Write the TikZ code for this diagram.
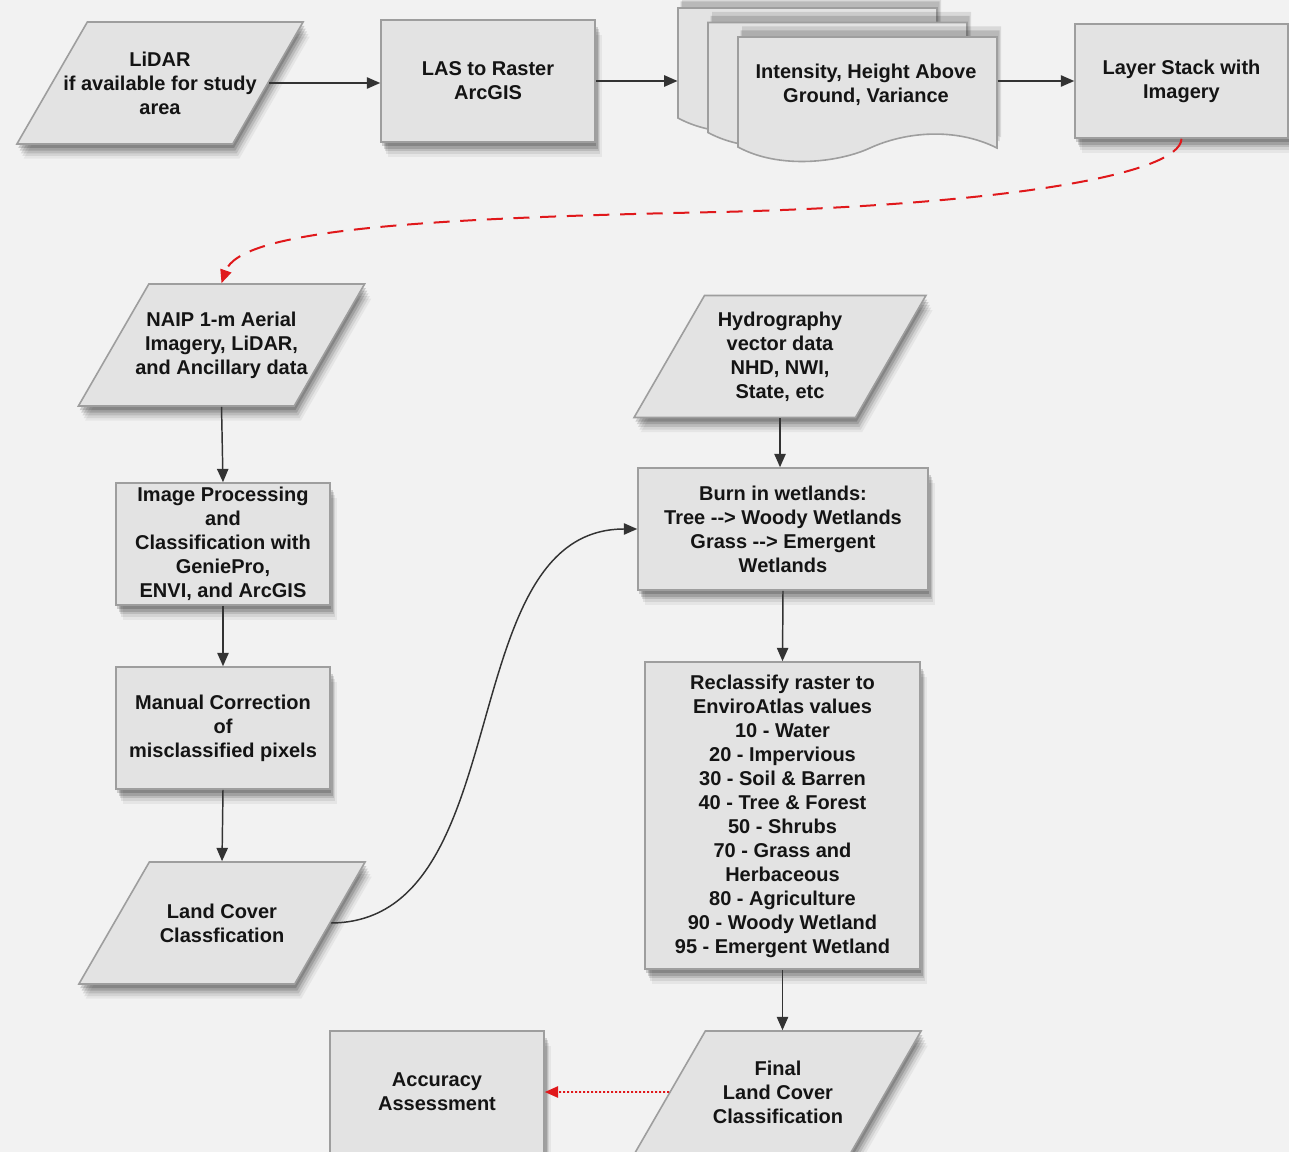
\documentclass[tikz,border=0pt]{standalone}
\usepackage{fontspec}
\setmainfont{Liberation Sans}
\usetikzlibrary{shapes.geometric,arrows.meta,shadows}

\definecolor{bgcol}{HTML}{F2F2F2}
\definecolor{boxfill}{HTML}{E3E3E3}
\definecolor{boxline}{HTML}{9E9E9E}
\definecolor{arrowcol}{HTML}{333333}
\definecolor{redline}{HTML}{E0181B}
\definecolor{txtcol}{HTML}{141414}

\newcommand{\arr}{-\kern0pt-\kern0pt>}

\tikzset{every picture/.style={line width=0.75pt}}
\tikzset{
  softshadow/.style={
    drop shadow={shadow xshift=1pt, shadow yshift=-3pt, opacity=0.16, fill=black},
    drop shadow={shadow xshift=2pt, shadow yshift=-5pt, opacity=0.14, fill=black},
    drop shadow={shadow xshift=3pt, shadow yshift=-7pt, opacity=0.11, fill=black},
    drop shadow={shadow xshift=4pt, shadow yshift=-9pt, opacity=0.08, fill=black},
    drop shadow={shadow xshift=5pt, shadow yshift=-11pt, opacity=0.05, fill=black}},
  basebox/.style={draw=boxline, fill=boxfill, line width=1.2pt,
    font=\fontsize{15}{18}\selectfont\bfseries, text=txtcol, inner sep=0pt, softshadow},
  procbox/.style={basebox, align=center},
  % parallelogram: fixed body, slant comes from the 60 degree angle
  databox/.style={basebox, trapezium, trapezium left angle=60, trapezium right angle=120,
    inner xsep=-26.25pt,
    execute at begin node={\begin{minipage}[c][91.5pt][c]{#1}\centering},
    execute at end node={\end{minipage}}},
  databox/.default=161.5pt,
  flow/.style={draw=arrowcol, line width=1.1pt, -{Triangle[length=10pt,width=8.5pt]}},
}

\begin{document}
\begin{tikzpicture}[x=0.75pt,y=0.75pt,yscale=-1,xscale=1]
\useasboundingbox (0,0) rectangle (1289,1152);
\fill[bgcol] (0,0) rectangle (1289,1152);

% top row
\node[databox] (lidar) at (160,83) {LiDAR\\if available for study\\area};
\node[procbox, minimum width=160.5pt, minimum height=91.5pt] (las) at (488,81) {LAS to Raster\\ArcGIS};
\node[procbox, minimum width=159.75pt, minimum height=85.5pt] (layer) at (1181.5,81) {Layer Stack with\\Imagery};

% stacked documents
\foreach \dx/\dy in {-60/-29,-30/-14.5,0/0}{
  \begin{scope}[shift={(\dx,\dy)}]
    \draw[draw=boxline, fill=boxfill, line width=1.2pt,
      drop shadow={shadow xshift=2pt, shadow yshift=5pt, opacity=0.14, fill=black},
      drop shadow={shadow xshift=3pt, shadow yshift=8pt, opacity=0.10, fill=black}]
      (738,37) -- (997,37) -- (997,148) .. controls (955,127) and (905,132) .. (870,148)
      .. controls (840,162) and (780,170) .. (738,147) -- cycle;
  \end{scope}
}
\node[inner sep=0pt, minimum width=239.25pt, minimum height=8pt] (docs) at (837.5,81) {};
\node[align=center, font=\fontsize{15}{18}\selectfont\bfseries, text=txtcol] (docstext) at (866,85) {Intensity, Height Above\\Ground, Variance};

% left column
\node[databox] (naip) at (221.5,345) {NAIP 1-m Aerial\\Imagery, LiDAR,\\and Ancillary data};
\node[procbox, minimum width=160.5pt, minimum height=91.5pt] (imgproc) at (223,544) {Image Processing\\and\\Classification with\\GeniePro,\\ENVI, and ArcGIS};
\node[procbox, minimum width=160.5pt, minimum height=91.5pt] (manual) at (223,728) {Manual Correction\\of\\misclassified pixels};
\node[databox] (landcover) at (222,923) {Land Cover\\Classfication};

% right column
\node[databox=165.75pt] (hydro) at (780,356.5) {Hydrography\\vector data\\NHD, NWI,\\State, etc};
\node[procbox, minimum width=217.5pt, minimum height=91.5pt] (burn) at (783,529) {Burn in wetlands:\\Tree \arr{} Woody Wetlands\\Grass \arr{} Emergent\\Wetlands};
\node[procbox, minimum width=206.25pt, minimum height=230.25pt] (reclass) at (782.5,815.5) {\\[-6pt]Reclassify raster to\\EnviroAtlas values\\10 - Water\\20 - Impervious\\30 - Soil \& Barren\\40 - Tree \& Forest\\50 - Shrubs\\70 - Grass and\\Herbaceous\\80 - Agriculture\\90 - Woody Wetland\\95 - Emergent Wetland};
\node[databox] (final) at (778,1092) {Final\\Land Cover\\Classification};
\node[procbox, minimum width=160.5pt, minimum height=91.5pt] (accuracy) at (437,1092) {Accuracy\\Assessment};

% connectors
\draw[flow] (lidar.east) -- (las.west |- lidar.east);
\draw[flow] (las.east) -- (docs.west);
\draw[flow] (docs.east) -- (layer.west);
\draw[draw=redline, line width=1.5pt, dash pattern=on 12pt off 8pt, -{Triangle[length=10pt,width=8.5pt]}]
  (layer.south) .. controls (1180,175) and (1000,205) .. (720,212)
  .. controls (420,218) and (240,230) .. (naip.north);
\draw[flow] (naip.south) -- (imgproc.north);
\draw[flow] (imgproc.south) -- (manual.north);
\draw[flow] (manual.south) -- (landcover.north);
\draw[flow] (landcover.east) .. controls (520,922) and (450,529) .. (burn.west);
\draw[flow] (hydro.south) -- (hydro.south |- burn.north);
\draw[flow] (burn.south) -- (reclass.north);
\draw[flow] (reclass.south) -- (reclass.south |- final.north);
\draw[draw=redline, line width=1.3pt, dash pattern=on 1.5pt off 1.5pt, -{Triangle[length=10pt,width=8.5pt]}]
  (final.west) -- (accuracy.east);
\end{tikzpicture}
\end{document}
